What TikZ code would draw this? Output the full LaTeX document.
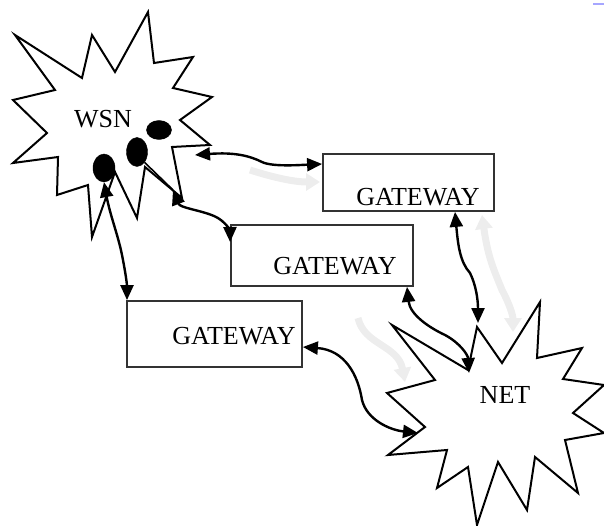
\documentclass[tikz,border=0pt]{standalone}
\usepackage{fontspec}
\setmainfont{Liberation Serif}
\usetikzlibrary{arrows.meta,shapes.geometric}
\begin{document}
\begin{tikzpicture}[x=1pt,y=-1pt,
  star/.style={draw=black,line width=2pt,line join=miter},
  gwbox/.style={draw=black!80,line width=1.8pt,rectangle,inner sep=0pt},
  lbl/.style={font=\fontsize{26}{28}\selectfont,inner sep=0pt},
  sensor/.style={ellipse,fill=black,draw=black,inner sep=0pt},
  link/.style={line width=2.4pt,{Triangle[length=15pt,width=13pt]}-{Triangle[length=15pt,width=13pt]}},
  ghost/.style={draw=black!7,line width=7pt,-{Triangle[length=14pt,width=17pt]}},
  ghostb/.style={draw=black!7,line width=7pt,{Triangle[length=14pt,width=17pt]}-{Triangle[length=14pt,width=17pt]}}]
\useasboundingbox (0,0) rectangle (604,526);
% faint background arrows
\draw[ghost] (250,170) .. controls (275,178) and (295,182) .. (320,182);
\draw[ghostb] (482,215) .. controls (488,258) and (494,270) .. (502,290) .. controls (510,305) and (513,316) .. (513,332);
\draw[ghost] (358,318) .. controls (364,345) and (398,345) .. (405,382);
% WSN star
\draw[star,fill=white] (148,12) -- (154,63) -- (193,57) -- (173,88) -- (212,97) -- (180,120) -- (210,145) -- (172,147) -- (182,198) -- (145,167) -- (137,218) -- (115,172) -- (92,237) -- (88,185) -- (57,195) -- (58,157) -- (13,163) -- (47,133) -- (13,100) -- (55,90) -- (15,35) -- (82,78) -- (92,35) -- (115,72) -- cycle;
% NET star
\draw[star,fill=white] (477,327) -- (502,363) -- (540,302) -- (537,358) -- (582,348) -- (563,379) -- (604,385) -- (573,413) -- (604,433) -- (565,440) -- (578,493) -- (535,457) -- (527,510) -- (498,462) -- (477,525) -- (468,467) -- (437,488) -- (447,450) -- (388,455) -- (425,427) -- (387,393) -- (435,380) -- (392,325) -- (468,370) -- cycle;
\node[lbl] (wsn) at (103,119) {WSN};
\node[lbl] (net) at (505,395) {NET};
% sensors
\node[sensor,minimum width=25pt,minimum height=19pt] (dot1) at (159,130) {};
\node[sensor,minimum width=21pt,minimum height=29pt] (dot2) at (137,152) {};
\node[sensor,minimum width=22pt,minimum height=28pt] (dot3) at (104,168) {};
% gateways
\node[gwbox,minimum width=171pt,minimum height=57pt] (gw1) at (408.5,182.5) {};
\node[lbl] (gw1t) at (418,197) {GATEWAY};
\node[gwbox,minimum width=182pt,minimum height=61pt] (gw2) at (322,255.5) {};
\node[lbl] (gw2t) at (335,266) {GATEWAY};
\node[gwbox,minimum width=175pt,minimum height=66pt] (gw3) at (214.5,334) {};
\node[lbl] (gw3t) at (234,336) {GATEWAY};
% attachment points
\coordinate (wsnR) at (195,155);
\coordinate (c2) at (173,190);
\coordinate (netA) at (478,323);
\coordinate (netB) at (469,373);
\coordinate (netC) at (418,433);
% links
\draw[link] (wsnR) .. controls (235,152) and (250,156) .. (262,162) .. controls (272,167) and (300,165) .. (gw1.west |- 0,164);
\draw[line width=1.6pt] (dot2.south east) -- (c2);
\draw[link] (c2) .. controls (180,208) and (200,210) .. (214,216) .. controls (226,221) and (230,232) .. (gw2.north west |- 0,242);
\draw[link] (dot3.south) .. controls (110,215) and (118,235) .. (122,255) .. controls (126,275) and (127,285) .. (gw3.north west -| 127,0);
\draw[link] (gw3.east |- 0,347) .. controls (345,350) and (358,375) .. (362,400) .. controls (367,420) and (390,430) .. (netC);
\draw[link] (gw2.south east -| 407,0) .. controls (410,315) and (430,328) .. (445,335) .. controls (460,343) and (468,355) .. (netB);
\draw[link] (gw1.south -| 455,0) .. controls (458,245) and (460,262) .. (470,273) .. controls (476,285) and (478,300) .. (netA);
% small mark top right
\draw[line width=2pt,draw=blue!35] (593,4.5) -- (604,4.5);
\end{tikzpicture}
\end{document}
